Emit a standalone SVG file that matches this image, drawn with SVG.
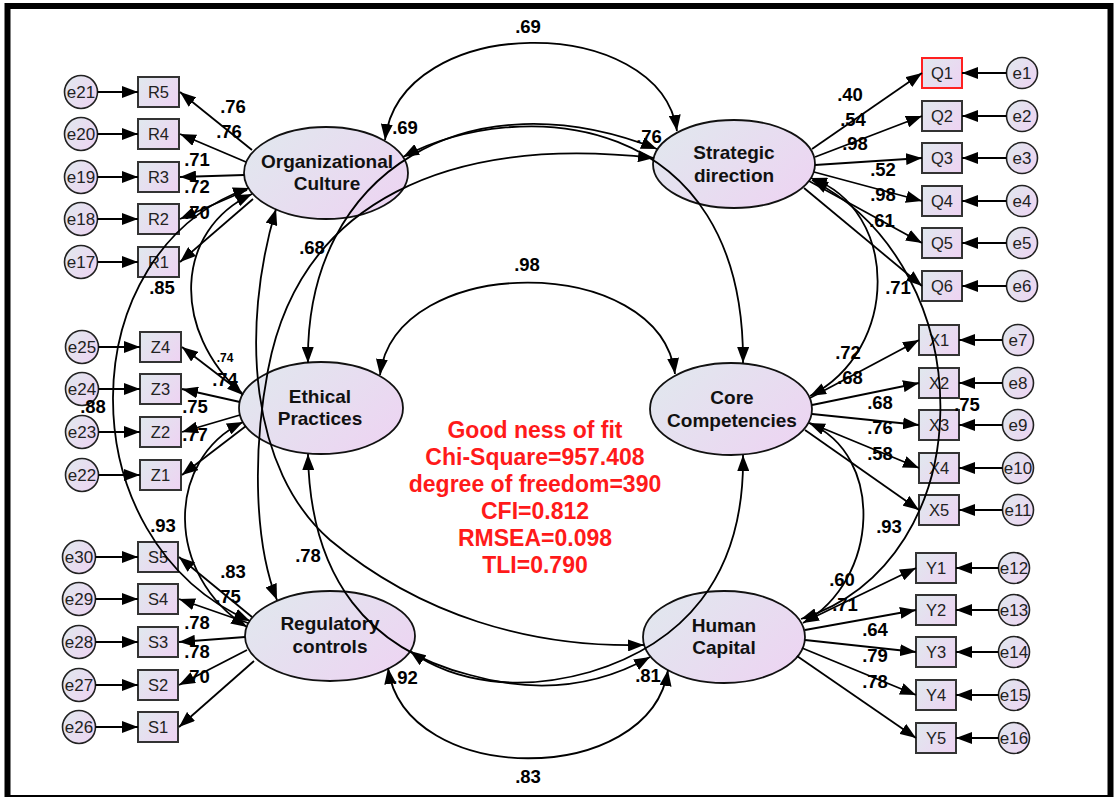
<svg xmlns="http://www.w3.org/2000/svg" width="1116" height="797" viewBox="0 0 1116 797">
  <defs>
    <linearGradient id="gl" x1="0" y1="0.2" x2="1" y2="0.8">
      <stop offset="0" stop-color="#e1e7ee"/>
      <stop offset="1" stop-color="#edd4f2"/>
    </linearGradient>
    <marker id="ah" viewBox="0 0 16 12" refX="16" refY="6" markerWidth="16" markerHeight="12" markerUnits="userSpaceOnUse" orient="auto-start-reverse">
      <path d="M0,0 L16,6 L0,12 z" fill="#000"/>
    </marker>
    <style>
      .lat { fill: url(#gl); stroke: #111; stroke-width: 1.8; }
      .box { fill: url(#gl); stroke: #333; stroke-width: 2; }
      .err { fill: url(#gl); stroke: #222; stroke-width: 1.6; }
      .ln { fill: none; stroke: #000; stroke-width: 1.8; marker-end: url(#ah); }
      .cv { fill: none; stroke: #000; stroke-width: 1.8; marker-start: url(#ah); marker-end: url(#ah); }
      text { font-family: "Liberation Sans", Arial, sans-serif; text-anchor: middle; }
      .lt { font-size: 19px; font-weight: bold; fill: #111; }
      .bt { font-size: 16.5px; fill: #222; }
      .et { font-size: 17px; fill: #222; }
      .cf { font-size: 18.5px; font-weight: bold; fill: #000; }
      .cs { font-size: 12px; font-weight: bold; fill: #000; }
      .fit { font-size: 23px; font-weight: bold; fill: #ff1a1a; }
    </style>
  </defs>

  <rect x="0" y="0" width="1116" height="797" fill="#fff"/>
  <rect x="7.5" y="6" width="1103" height="792" fill="none" stroke="#000" stroke-width="6"/>

  <!-- latent variables -->
  <g id="oc"><ellipse class="lat" cx="326" cy="173" rx="82" ry="46"/><text class="lt" x="327" y="168">Organizational</text><text class="lt" x="327" y="190">Culture</text></g>
  <g id="sd"><ellipse class="lat" cx="734" cy="164" rx="81" ry="44"/><text class="lt" x="734" y="159">Strategic</text><text class="lt" x="734" y="182">direction</text></g>
  <g id="ep"><ellipse class="lat" cx="321" cy="408" rx="82" ry="46"/><text class="lt" x="320" y="403">Ethical</text><text class="lt" x="320" y="425">Practices</text></g>
  <g id="cc"><ellipse class="lat" cx="731" cy="409" rx="81" ry="46"/><text class="lt" x="732" y="404">Core</text><text class="lt" x="732" y="427">Competencies</text></g>
  <g id="rc"><ellipse class="lat" cx="330" cy="636" rx="85" ry="45"/><text class="lt" x="330" y="630">Regulatory</text><text class="lt" x="330" y="653">controls</text></g>
  <g id="hc"><ellipse class="lat" cx="724" cy="637" rx="81" ry="46"/><text class="lt" x="724" y="632">Human</text><text class="lt" x="724" y="654">Capital</text></g>

  <!-- observed indicators, left -->
  <g id="R5"><rect class="box" x="138" y="77" width="41" height="30"/><text class="bt" x="158.5" y="98">R5</text></g>
  <g id="R4"><rect class="box" x="138" y="119" width="41" height="30"/><text class="bt" x="158.5" y="140">R4</text></g>
  <g id="R3"><rect class="box" x="138" y="162" width="41" height="30"/><text class="bt" x="158.5" y="183">R3</text></g>
  <g id="R2"><rect class="box" x="138" y="204" width="41" height="30"/><text class="bt" x="158.5" y="225">R2</text></g>
  <g id="R1"><rect class="box" x="138" y="247" width="41" height="30"/><text class="bt" x="158.5" y="268">R1</text></g>
  <g id="Z4"><rect class="box" x="140" y="332" width="41" height="30"/><text class="bt" x="160.5" y="353">Z4</text></g>
  <g id="Z3"><rect class="box" x="140" y="374" width="41" height="30"/><text class="bt" x="160.5" y="395">Z3</text></g>
  <g id="Z2"><rect class="box" x="140" y="417" width="41" height="30"/><text class="bt" x="160.5" y="438">Z2</text></g>
  <g id="Z1"><rect class="box" x="140" y="460" width="41" height="30"/><text class="bt" x="160.5" y="481">Z1</text></g>
  <g id="S5"><rect class="box" x="138" y="542" width="40" height="30"/><text class="bt" x="158" y="563">S5</text></g>
  <g id="S4"><rect class="box" x="138" y="584" width="40" height="30"/><text class="bt" x="158" y="605">S4</text></g>
  <g id="S3"><rect class="box" x="138" y="627" width="40" height="30"/><text class="bt" x="158" y="648">S3</text></g>
  <g id="S2"><rect class="box" x="138" y="670" width="40" height="30"/><text class="bt" x="158" y="691">S2</text></g>
  <g id="S1"><rect class="box" x="138" y="712" width="40" height="30"/><text class="bt" x="158" y="733">S1</text></g>

  <!-- observed indicators, right -->
  <g id="Q1"><rect class="box" x="922" y="58" width="40" height="30" style="stroke:#ff2020"/><text class="bt" x="942" y="79">Q1</text></g>
  <g id="Q2"><rect class="box" x="922" y="101" width="40" height="30"/><text class="bt" x="942" y="122">Q2</text></g>
  <g id="Q3"><rect class="box" x="922" y="143" width="40" height="30"/><text class="bt" x="942" y="164">Q3</text></g>
  <g id="Q4"><rect class="box" x="922" y="186" width="40" height="30"/><text class="bt" x="942" y="207">Q4</text></g>
  <g id="Q5"><rect class="box" x="922" y="228" width="40" height="30"/><text class="bt" x="942" y="249">Q5</text></g>
  <g id="Q6"><rect class="box" x="922" y="271" width="40" height="30"/><text class="bt" x="942" y="292">Q6</text></g>
  <g id="X1"><rect class="box" x="919" y="325" width="40" height="30"/><text class="bt" x="939" y="346">X1</text></g>
  <g id="X2"><rect class="box" x="919" y="368" width="40" height="30"/><text class="bt" x="939" y="389">X2</text></g>
  <g id="X3"><rect class="box" x="919" y="410" width="40" height="30"/><text class="bt" x="939" y="431">X3</text></g>
  <g id="X4"><rect class="box" x="919" y="453" width="40" height="30"/><text class="bt" x="939" y="474">X4</text></g>
  <g id="X5"><rect class="box" x="919" y="495" width="40" height="30"/><text class="bt" x="939" y="516">X5</text></g>
  <g id="Y1"><rect class="box" x="916" y="553" width="40" height="30"/><text class="bt" x="936" y="574">Y1</text></g>
  <g id="Y2"><rect class="box" x="916" y="595" width="40" height="30"/><text class="bt" x="936" y="616">Y2</text></g>
  <g id="Y3"><rect class="box" x="916" y="637" width="40" height="30"/><text class="bt" x="936" y="658">Y3</text></g>
  <g id="Y4"><rect class="box" x="916" y="680" width="40" height="30"/><text class="bt" x="936" y="701">Y4</text></g>
  <g id="Y5"><rect class="box" x="916" y="723" width="40" height="30"/><text class="bt" x="936" y="744">Y5</text></g>

  <!-- error terms -->
  <g id="e21"><circle class="err" cx="81" cy="92" r="16.5"/><text class="et" x="81" y="98">e21</text></g>
  <g id="e20"><circle class="err" cx="81" cy="134" r="16.5"/><text class="et" x="81" y="140">e20</text></g>
  <g id="e19"><circle class="err" cx="81" cy="177" r="16.5"/><text class="et" x="81" y="183">e19</text></g>
  <g id="e18"><circle class="err" cx="81" cy="219" r="16.5"/><text class="et" x="81" y="225">e18</text></g>
  <g id="e17"><circle class="err" cx="81" cy="262" r="16.5"/><text class="et" x="81" y="268">e17</text></g>
  <g id="e25"><circle class="err" cx="82" cy="347" r="16.5"/><text class="et" x="82" y="353">e25</text></g>
  <g id="e24"><circle class="err" cx="82" cy="389" r="16.5"/><text class="et" x="82" y="395">e24</text></g>
  <g id="e23"><circle class="err" cx="82" cy="432" r="16.5"/><text class="et" x="82" y="438">e23</text></g>
  <g id="e22"><circle class="err" cx="82" cy="475" r="16.5"/><text class="et" x="82" y="481">e22</text></g>
  <g id="e30"><circle class="err" cx="79" cy="557" r="16.5"/><text class="et" x="79" y="563">e30</text></g>
  <g id="e29"><circle class="err" cx="79" cy="599" r="16.5"/><text class="et" x="79" y="605">e29</text></g>
  <g id="e28"><circle class="err" cx="79" cy="642" r="16.5"/><text class="et" x="79" y="648">e28</text></g>
  <g id="e27"><circle class="err" cx="79" cy="685" r="16.5"/><text class="et" x="79" y="691">e27</text></g>
  <g id="e26"><circle class="err" cx="79" cy="727" r="16.5"/><text class="et" x="79" y="733">e26</text></g>
  <g id="e1"><circle class="err" cx="1022" cy="73" r="15.5"/><text class="et" x="1022" y="79">e1</text></g>
  <g id="e2"><circle class="err" cx="1022" cy="116" r="15.5"/><text class="et" x="1022" y="122">e2</text></g>
  <g id="e3"><circle class="err" cx="1022" cy="158" r="15.5"/><text class="et" x="1022" y="164">e3</text></g>
  <g id="e4"><circle class="err" cx="1022" cy="201" r="15.5"/><text class="et" x="1022" y="207">e4</text></g>
  <g id="e5"><circle class="err" cx="1022" cy="243" r="15.5"/><text class="et" x="1022" y="249">e5</text></g>
  <g id="e6"><circle class="err" cx="1022" cy="286" r="15.5"/><text class="et" x="1022" y="292">e6</text></g>
  <g id="e7"><circle class="err" cx="1018" cy="340" r="15.5"/><text class="et" x="1018" y="346">e7</text></g>
  <g id="e8"><circle class="err" cx="1018" cy="383" r="15.5"/><text class="et" x="1018" y="389">e8</text></g>
  <g id="e9"><circle class="err" cx="1018" cy="425" r="15.5"/><text class="et" x="1018" y="431">e9</text></g>
  <g id="e10"><circle class="err" cx="1018" cy="468" r="15.5"/><text class="et" x="1018" y="474">e10</text></g>
  <g id="e11"><circle class="err" cx="1018" cy="510" r="15.5"/><text class="et" x="1018" y="516">e11</text></g>
  <g id="e12"><circle class="err" cx="1014" cy="568" r="15.5"/><text class="et" x="1014" y="574">e12</text></g>
  <g id="e13"><circle class="err" cx="1014" cy="610" r="15.5"/><text class="et" x="1014" y="616">e13</text></g>
  <g id="e14"><circle class="err" cx="1014" cy="652" r="15.5"/><text class="et" x="1014" y="658">e14</text></g>
  <g id="e15"><circle class="err" cx="1014" cy="695" r="15.5"/><text class="et" x="1014" y="701">e15</text></g>
  <g id="e16"><circle class="err" cx="1014" cy="738" r="15.5"/><text class="et" x="1014" y="744">e16</text></g>

  <!-- fit statistics -->
  <g id="fit">
    <text class="fit" x="535" y="438">Good ness of fit</text>
    <text class="fit" x="535" y="465">Chi-Square=957.408</text>
    <text class="fit" x="535" y="492">degree of freedom=390</text>
    <text class="fit" x="535" y="519">CFI=0.812</text>
    <text class="fit" x="535" y="546">RMSEA=0.098</text>
    <text class="fit" x="535" y="573">TLI=0.790</text>
  </g>

  <!-- estimates -->
  <g id="estimates">
    <text class="cf" x="233" y="113">.76</text>
    <text class="cf" x="229" y="138">.76</text>
    <text class="cf" x="197" y="166">.71</text>
    <text class="cf" x="197" y="193">.72</text>
    <text class="cf" x="197" y="219">.70</text>
    <text class="cf" x="162" y="294">.85</text>
    <text class="cs" x="225" y="362">.74</text>
    <text class="cf" x="225" y="386">.74</text>
    <text class="cf" x="195" y="413">.75</text>
    <text class="cf" x="195" y="441">.77</text>
    <text class="cf" x="93" y="413">.88</text>
    <text class="cf" x="163" y="532">.93</text>
    <text class="cf" x="233" y="578">.83</text>
    <text class="cf" x="228" y="603">.75</text>
    <text class="cf" x="197" y="629">.78</text>
    <text class="cf" x="197" y="658">.78</text>
    <text class="cf" x="197" y="683">.70</text>
    <text class="cf" x="312" y="254">.68</text>
    <text class="cf" x="308" y="562">.78</text>
    <text class="cf" x="405" y="134">.69</text>
    <text class="cf" x="649" y="143">.76</text>
    <text class="cf" x="528" y="33">.69</text>
    <text class="cf" x="527" y="271">.98</text>
    <text class="cf" x="405" y="684">.92</text>
    <text class="cf" x="648" y="682">.81</text>
    <text class="cf" x="528" y="783">.83</text>
    <text class="cf" x="850" y="101">.40</text>
    <text class="cf" x="853" y="126">.54</text>
    <text class="cf" x="855" y="150">.98</text>
    <text class="cf" x="883" y="176">.52</text>
    <text class="cf" x="883" y="201">.98</text>
    <text class="cf" x="882" y="227">.61</text>
    <text class="cf" x="898" y="294">.71</text>
    <text class="cf" x="848" y="359">.72</text>
    <text class="cf" x="850" y="384">.68</text>
    <text class="cf" x="880" y="409">.68</text>
    <text class="cf" x="880" y="434">.76</text>
    <text class="cf" x="880" y="460">.58</text>
    <text class="cf" x="967" y="411">.75</text>
    <text class="cf" x="889" y="533">.93</text>
    <text class="cf" x="842" y="586">.60</text>
    <text class="cf" x="845" y="611">.71</text>
    <text class="cf" x="875" y="636">.64</text>
    <text class="cf" x="875" y="662">.79</text>
    <text class="cf" x="875" y="688">.78</text>
  </g>

  <g id="connectors">
    <!-- error paths -->
    <path class="ln" d="M97.5,92 H138"/>
    <path class="ln" d="M97.5,134 H138"/>
    <path class="ln" d="M97.5,177 H138"/>
    <path class="ln" d="M97.5,219 H138"/>
    <path class="ln" d="M97.5,262 H138"/>
    <path class="ln" d="M98.5,347 H140"/>
    <path class="ln" d="M98.5,389 H140"/>
    <path class="ln" d="M98.5,432 H140"/>
    <path class="ln" d="M98.5,475 H140"/>
    <path class="ln" d="M95.5,557 H138"/>
    <path class="ln" d="M95.5,599 H138"/>
    <path class="ln" d="M95.5,642 H138"/>
    <path class="ln" d="M95.5,685 H138"/>
    <path class="ln" d="M95.5,727 H138"/>
    <path class="ln" d="M1006.5,73 H962"/>
    <path class="ln" d="M1006.5,116 H962"/>
    <path class="ln" d="M1006.5,158 H962"/>
    <path class="ln" d="M1006.5,201 H962"/>
    <path class="ln" d="M1006.5,243 H962"/>
    <path class="ln" d="M1006.5,286 H962"/>
    <path class="ln" d="M1002.5,340 H959"/>
    <path class="ln" d="M1002.5,383 H959"/>
    <path class="ln" d="M1002.5,425 H959"/>
    <path class="ln" d="M1002.5,468 H959"/>
    <path class="ln" d="M1002.5,510 H959"/>
    <path class="ln" d="M998.5,568 H956"/>
    <path class="ln" d="M998.5,610 H956"/>
    <path class="ln" d="M998.5,652 H956"/>
    <path class="ln" d="M998.5,695 H956"/>
    <path class="ln" d="M998.5,738 H956"/>

    <!-- loadings -->
    <path class="ln" d="M252,150 L180,92"/>
    <path class="ln" d="M246,162 L180,134"/>
    <path class="ln" d="M244,175 L180,177"/>
    <path class="ln" d="M247,190 L180,219"/>
    <path class="ln" d="M253,199 L180,262"/>
    <path class="ln" d="M242,393 L182,347"/>
    <path class="ln" d="M240,402 L182,389"/>
    <path class="ln" d="M240,415 L182,432"/>
    <path class="ln" d="M246,426 L182,475"/>
    <path class="ln" d="M252,617 L179,557"/>
    <path class="ln" d="M248,623 L179,599"/>
    <path class="ln" d="M245,637 L179,642"/>
    <path class="ln" d="M247,650 L179,685"/>
    <path class="ln" d="M254,661 L179,727"/>
    <path class="ln" d="M812,149 L922,73"/>
    <path class="ln" d="M815,157 L922,116"/>
    <path class="ln" d="M815,165 L922,158"/>
    <path class="ln" d="M814,172 L922,201"/>
    <path class="ln" d="M809,181 L922,243"/>
    <path class="ln" d="M804,188 L922,286"/>
    <path class="ln" d="M810,398 L919,340"/>
    <path class="ln" d="M812,405 L919,383"/>
    <path class="ln" d="M812,414 L919,425"/>
    <path class="ln" d="M810,423 L919,468"/>
    <path class="ln" d="M805,430 L919,510"/>
    <path class="ln" d="M806,621 L916,568"/>
    <path class="ln" d="M805,630 L916,610"/>
    <path class="ln" d="M805,640 L916,652"/>
    <path class="ln" d="M802,648 L916,695"/>
    <path class="ln" d="M797,656 L916,738"/>

    <!-- covariances -->
    <path class="cv" d="M385,140 C400,12 660,12 677,131"/>
    <path class="cv" d="M380,375 C395,252 660,252 675,374"/>
    <path class="cv" d="M388,668 C405,788 650,788 668,670"/>
    <path class="cv" d="M252,194 C175,230 170,330 243,395"/>
    <path class="cv" d="M249,188 C70,250 65,540 250,621"/>
    <path class="cv" d="M243,422 C165,460 165,575 247,627"/>
    <path class="cv" d="M811,178 C900,210 900,350 810,396"/>
    <path class="cv" d="M809,423 C885,455 880,580 803,623"/>
    <path class="cv" d="M812,180 C985,270 985,560 801,619"/>
    <path class="cv" d="M403,157 C520,95 745,110 743,363"/>
    <path class="cv" d="M308,363 C305,170 470,75 657,149"/>
    <path class="cv" d="M654,158 C450,135 300,200 268,370 C252,455 255,545 277,600"/>
    <path class="cv" d="M276,209 C240,330 250,470 330,540 C420,615 530,648 644,645"/>
    <path class="cv" d="M308,454 C310,580 370,650 470,675 C540,695 600,685 650,657"/>
    <path class="cv" d="M743,455 C745,580 680,645 590,672 C520,692 455,683 410,651"/>
  </g>
</svg>
